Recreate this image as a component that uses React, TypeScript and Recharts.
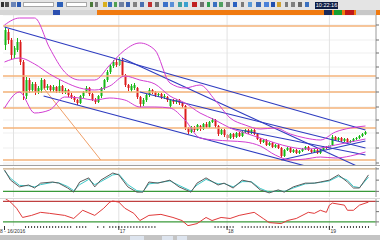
import React from 'react';
import { ComposedChart, LineChart, Bar, Line, XAxis, YAxis, ReferenceLine, CartesianGrid } from 'recharts';

// candles, one per bar: [open, high, low, close]
const candles: number[][] = [
  [120, 138, 115, 135], [133, 136, 121, 125], [125, 127, 105, 110], [110, 119, 107, 117], [115, 127, 113, 123],
  [123, 125, 100, 103], [103, 105, 65, 73], [69, 88, 66, 85], [85, 87, 72, 75], [75, 83, 73, 81],
  [81, 83, 70, 73], [73, 79, 71, 77], [75, 87, 72, 85], [85, 86, 75, 77], [77, 81, 75, 79],
  [79, 80, 73, 75], [75, 80, 73, 78], [78, 79, 72, 74], [74, 85, 72, 79], [79, 80, 71, 73],
  [73, 77, 71, 75], [75, 76, 68, 70], [70, 72, 66, 68], [68, 69, 63, 65], [65, 66, 60, 62],
  [62, 70, 61, 69], [69, 74, 67, 73], [73, 79, 72, 77], [77, 78, 69, 71], [71, 72, 64, 65],
  [65, 67, 61, 63], [63, 70, 62, 69], [69, 78, 67, 77], [77, 86, 75, 85], [85, 95, 83, 93],
  [93, 101, 91, 99], [99, 105, 97, 103], [103, 106, 98, 100], [100, 108, 99, 105], [105, 107, 88, 90],
  [90, 91, 78, 80], [80, 81, 74, 77], [75, 81, 73, 79], [77, 82, 75, 80], [77, 78, 66, 68],
  [68, 69, 58, 61], [61, 67, 59, 65], [65, 71, 63, 70], [70, 77, 68, 75], [75, 76, 71, 73],
  [73, 74, 68, 70], [70, 72, 68, 71], [71, 72, 66, 68], [68, 71, 66, 69], [68, 69, 63, 65],
  [59, 66, 57, 65], [65, 66, 61, 63], [63, 66, 61, 65], [65, 66, 60, 62], [62, 63, 57, 59],
  [59, 60, 35, 37], [37, 38, 31, 33], [33, 39, 32, 38], [38, 39, 33, 35], [35, 41, 34, 40],
  [39, 40, 34, 36], [36, 42, 35, 41], [41, 43, 37, 38], [38, 44, 37, 43], [43, 47, 42, 45],
  [45, 46, 37, 39], [39, 40, 29, 31], [31, 36, 30, 35], [35, 36, 28, 30], [30, 31, 25, 27],
  [27, 32, 26, 31], [31, 32, 26, 28], [28, 33, 27, 32], [32, 33, 28, 29], [29, 34, 28, 33],
  [33, 36, 32, 35], [35, 36, 31, 32], [32, 36, 31, 35], [35, 36, 30, 31], [31, 32, 25, 26],
  [26, 27, 21, 23], [23, 26, 22, 25], [25, 26, 19, 20], [20, 23, 19, 22], [22, 23, 17, 18],
  [18, 21, 17, 20], [20, 21, 16, 17], [17, 18, 7, 9], [9, 16, 8, 15], [15, 18, 14, 17],
  [17, 18, 12, 13], [13, 16, 12, 15], [15, 16, 11, 12], [12, 15, 11, 14], [14, 17, 13, 16],
  [16, 19, 15, 18], [18, 19, 14, 15], [15, 16, 12, 13], [13, 16, 12, 15], [15, 16, 11, 12],
  [12, 16, 11, 15], [15, 19, 14, 18], [18, 19, 16, 17], [17, 22, 16, 20], [20, 30, 19, 28],
  [28, 29, 24, 25], [25, 28, 24, 27], [27, 28, 23, 24], [24, 27, 23, 26], [26, 27, 22, 23],
  [23, 25, 22, 24], [24, 27, 23, 26], [26, 28, 25, 27], [27, 30, 26, 29], [29, 32, 28, 31],
  [31, 34, 30, 33],
];
const barSlots = 124;

// bollinger bands, read every 5 bars
const bandIdx = [0, 5, 10, 15, 20, 25, 30, 35, 40, 45, 50, 55, 60, 65, 70, 75, 80, 85, 90, 95, 100, 105, 110, 115, 120];
const bandUpper = [140, 147, 147, 117, 93, 85, 85, 100, 115, 122, 115, 82, 77, 80, 65, 47, 40, 36, 37, 31, 27, 25, 33, 37, 39];
const bandMid = [103, 107, 101, 91, 83, 77, 75, 79, 89, 85, 81, 69, 62, 52, 45, 37, 32, 27, 22, 18, 16, 17, 20, 23, 26];
const bandLower = [57, 73, 52, 55, 68, 67, 65, 67, 65, 58, 58, 57, 45, 27, 25, 24, 23, 19, 10, 5, 6, 8, 7, 9, 13];

// horizontal price levels and trend lines [bar1, price1, bar2, price2]
const levels = [139, 89, 73, 57, 37, 5];
const trendLines = [
  [0, 138, 120, 35],
  [39, 107, 120, -5],
  [13, 69, 120, -17],
  [45, 73, 120, 17],
  [92, 5, 120, 24],
  [75, 37, 120, 10],
];
const fibLine = [13, 77, 32, 5];
const daySplits = [3, 38, 74, 108];
const priceTicks = [2, 17, 32, 45, 58, 73, 87, 98, 112, 125, 140];

// oscillator 1 (stochastic style)
const osc1T = [0, 2, 5, 8, 10, 12, 16, 18, 21, 23, 25, 28, 30, 32, 36, 38, 41, 44, 46, 48, 51, 55, 58, 62, 64, 67, 71, 73, 76, 79, 82, 85, 88, 91, 93, 96, 100, 103, 105, 108, 111, 114, 116, 118, 121];
const osc1Main = [77, 50, 32, 37, 29, 42, 45, 42, 29, 18, 45, 56, 32, 50, 69, 64, 32, 18, 18, 45, 42, 50, 32, 18, 42, 56, 37, 42, 29, 50, 45, 24, 16, 24, 18, 32, 42, 42, 45, 50, 64, 45, 29, 29, 64];
const osc1Signal = [75, 55, 36, 35, 32, 38, 44, 43, 33, 22, 38, 52, 38, 46, 64, 66, 38, 22, 19, 40, 43, 48, 36, 21, 37, 52, 40, 41, 32, 46, 46, 28, 18, 22, 20, 29, 40, 42, 44, 48, 60, 50, 33, 30, 58];

// oscillator 2 (rsi style)
const osc2T = [0, 2, 4, 6, 9, 12, 15, 20, 23, 26, 30, 33, 35, 36, 38, 40, 43, 45, 48, 52, 56, 59, 61, 64, 67, 69, 72, 75, 78, 83, 86, 88, 92, 94, 97, 101, 103, 105, 107, 108, 109, 113, 114, 116, 118, 121];
const osc2Vals = [90, 78, 60, 33, 39, 48, 45, 39, 30, 54, 39, 60, 78, 81, 78, 60, 45, 24, 39, 42, 33, 24, 9, 15, 33, 24, 33, 30, 39, 48, 30, 18, 15, 24, 30, 48, 45, 54, 48, 69, 75, 69, 54, 54, 69, 78];

// time axis
const tickRuns = [[7, 22], [24, 27], [31, 31], [33, 33], [35, 50], [70, 76], [79, 109], [112, 121]];
const dayLabels: Record<number, string> = { 0: '8 - 16/2016', 38: '17', 74: '18', 108: '19' };

const rows = Array.from({ length: barSlots }, (_, i) => {
  const k = candles[i];
  const b = bandIdx.indexOf(i);
  return {
    i,
    o: k ? k[0] : null,
    h: k ? k[1] : null,
    l: k ? k[2] : null,
    c: k ? k[3] : null,
    range: k ? [k[2], k[1]] : null,
    bbUp: b >= 0 ? bandUpper[b] : null,
    bbMid: b >= 0 ? bandMid[b] : null,
    bbLow: b >= 0 ? bandLower[b] : null,
  };
});

const osc1Rows = osc1T.map((t, n) => ({ t, main: osc1Main[n], sig: osc1Signal[n] }));
const osc2Rows = osc2T.map((t, n) => ({ t, v: osc2Vals[n] }));

const timeTicks: number[] = [];
tickRuns.forEach(([a, b]) => {
  for (let t = a; t <= b; t++) timeTicks.push(t);
});
Object.keys(dayLabels).forEach((k) => {
  if (!timeTicks.includes(Number(k))) timeTicks.push(Number(k));
});
timeTicks.sort((a, b) => a - b);

function Candle(props: any) {
  const { x, y, width, height, payload } = props;
  if (payload == null || payload.h == null) return null;
  const { o, h, l, c } = payload;
  const top = Math.min(y, y + height);
  const span = Math.abs(height);
  const px = (v: number) => top + ((h - v) / (h - l || 1)) * span;
  const color = c >= o ? '#14b814' : '#dc1c1c';
  const cx = Math.round(x + width / 2) + 0.5;
  const bTop = px(Math.max(o, c));
  const bBot = px(Math.min(o, c));
  return (
    <g>
      <line x1={cx} x2={cx} y1={top} y2={top + span} stroke={color} strokeWidth={1} />
      <rect x={cx - 1} y={bTop} width={2} height={Math.max(1, bBot - bTop)} fill={color} />
    </g>
  );
}

function TimeTick(props: any) {
  const { x, y, payload } = props;
  const label = dayLabels[payload.value];
  if (!label) return <g />;
  return (
    <g>
      <line x1={x} x2={x} y1={y - 4} y2={y} stroke="#333" strokeWidth={1} />
      <text x={payload.value === 0 ? 0 : x + 1} y={y + 3} fontSize={5} fill="#333" fontFamily="Liberation Sans, Arial">
        {label}
      </text>
    </g>
  );
}

// toolbar pieces: [left, width, color]
const toolbar: [number, number, string][] = [
  [1, 3, '#303030'], [5, 4, '#505050'], [11, 5, '#6a84b8'], [17, 4, '#2a58b0'],
  [57, 6, '#2c5fb8'], [90, 3, '#4a7a3a'], [95, 3, '#7a7a7a'], [103, 4, '#d8b020'],
  [108, 4, '#3b6fc0'], [114, 3, '#50a050'], [119, 5, '#7080a0'], [126, 4, '#3a62b0'],
  [133, 4, '#808080'], [140, 4, '#4a6fb0'], [148, 4, '#c03030'], [155, 4, '#707070'],
  [163, 5, '#3c70c8'], [170, 4, '#5a8fd8'], [178, 4, '#40a0a0'], [184, 4, '#3aa0d0'],
  [192, 5, '#c02020'], [200, 4, '#707070'], [207, 3, '#30a050'], [213, 4, '#3a70c0'],
  [219, 4, '#50a060'], [226, 4, '#7a7a7a'], [233, 4, '#2a60c0'], [241, 3, '#7a7a7a'],
  [248, 4, '#5a9ad8'], [256, 5, '#3a6ab8'], [264, 5, '#4a80d8'], [271, 4, '#2050b0'],
  [277, 4, '#d0a030'], [285, 3, '#7a7a7a'], [291, 4, '#808080'], [298, 4, '#6a6a6a'], [305, 4, '#3a70c0'],
];

export default function App() {
  return (
    <div
      style={{
        position: 'fixed',
        left: 0,
        top: 0,
        width: 380,
        height: 240,
        overflow: 'hidden',
        background: '#ffffff',
        fontFamily: 'Liberation Sans, Arial, sans-serif',
      }}
    >
      {/* toolbar */}
      <div style={{ position: 'absolute', left: 0, top: 0, width: 380, height: 10, background: '#e4e4e4' }}>
        {toolbar.map(([left, w, color], n) => (
          <span key={n} style={{ position: 'absolute', left, top: 2, width: w, height: 5, background: color }} />
        ))}
        <span style={{ position: 'absolute', left: 23, top: 2, width: 31, height: 5, background: '#fff', border: '1px solid #a8a8a8', boxSizing: 'border-box' }} />
        <span style={{ position: 'absolute', left: 66, top: 2, width: 21, height: 5, background: '#fff', border: '1px solid #a8a8a8', boxSizing: 'border-box' }} />
        <span
          style={{
            position: 'absolute',
            left: 315,
            top: 2,
            width: 23,
            height: 7,
            background: '#0e1d44',
            color: '#fff',
            fontSize: 5.5,
            lineHeight: '7px',
            textAlign: 'center',
          }}
        >
          10:22:16
        </span>
      </div>
      {/* tab row */}
      <div style={{ position: 'absolute', left: 0, top: 10, width: 380, height: 5, background: '#d6d6d6' }}>
        <span style={{ position: 'absolute', left: 53, top: 0, width: 7, height: 5, background: '#2c4fb0' }} />
        <span style={{ position: 'absolute', left: 97, top: 0, width: 283, height: 5, background: '#f07a10' }} />
        <span style={{ position: 'absolute', left: 324, top: 0, width: 8, height: 5, background: '#1a2a5a' }} />
        <span style={{ position: 'absolute', left: 334, top: 0, width: 8, height: 5, background: '#18a030' }} />
        <span style={{ position: 'absolute', left: 345, top: 0, width: 9, height: 5, background: '#c01818' }} />
        <span style={{ position: 'absolute', left: 356, top: 0, width: 20, height: 5, background: '#c8c8c8' }} />
      </div>

      {/* main price panel */}
      <div style={{ position: 'absolute', left: 0, top: 15, borderBottom: '1px solid #a0a0a0' }}>
        <ComposedChart width={380} height={150} data={rows} margin={{ top: 0, right: 0, bottom: 0, left: 3 }}>
          <CartesianGrid vertical={false} stroke="#efefef" />
          <XAxis dataKey="i" type="category" hide />
          <YAxis
            orientation="right"
            width={4}
            domain={[0, 150]}
            ticks={priceTicks}
            tickFormatter={() => ''}
            tickSize={3}
            axisLine={{ stroke: '#9a9a9a' }}
            tickLine={{ stroke: '#707070' }}
            allowDataOverflow
          />
          {daySplits.map((d) => (
            <ReferenceLine key={'d' + d} x={d} stroke="#e2e2e2" ifOverflow="hidden" />
          ))}
          {levels.map((v) => (
            <ReferenceLine key={'l' + v} y={v} stroke="#f4b37a" strokeWidth={1.6} ifOverflow="hidden" />
          ))}
          <ReferenceLine
            segment={[{ x: fibLine[0], y: fibLine[1] }, { x: fibLine[2], y: fibLine[3] }]}
            stroke="#f0a068"
            strokeWidth={1}
            ifOverflow="hidden"
          />
          {trendLines.map((t, n) => (
            <ReferenceLine
              key={'t' + n}
              segment={[{ x: t[0], y: t[1] }, { x: t[2], y: t[3] }]}
              stroke="#2e3cc0"
              strokeWidth={1.1}
              ifOverflow="hidden"
            />
          ))}
          <Line dataKey="bbUp" type="monotone" stroke="#d23ed2" strokeWidth={1} dot={false} connectNulls isAnimationActive={false} />
          <Line dataKey="bbMid" type="monotone" stroke="#d23ed2" strokeWidth={1} dot={false} connectNulls isAnimationActive={false} />
          <Line dataKey="bbLow" type="monotone" stroke="#d23ed2" strokeWidth={1} dot={false} connectNulls isAnimationActive={false} />
          <Bar dataKey="range" barSize={3} shape={Candle} isAnimationActive={false} />
        </ComposedChart>
      </div>

      {/* oscillator 1 */}
      <div style={{ position: 'absolute', left: 0, top: 167 }}>
        <LineChart width={380} height={30} data={osc1Rows} margin={{ top: 0, right: 0, bottom: 0, left: 3 }}>
          <XAxis dataKey="t" type="number" domain={[-0.5, barSlots - 0.5]} hide />
          <YAxis
            orientation="right"
            width={4}
            domain={[5, 85]}
            ticks={[20, 50, 80]}
            tickFormatter={() => ''}
            tickSize={3}
            axisLine={{ stroke: '#9a9a9a' }}
            tickLine={{ stroke: '#707070' }}
          />
          {daySplits.map((d) => (
            <ReferenceLine key={'d' + d} x={d} stroke="#e2e2e2" />
          ))}
          <ReferenceLine y={80} stroke="#c9a77e" strokeWidth={1.2} />
          <ReferenceLine y={20} stroke="#3a9a3a" strokeWidth={1.2} />
          <Line dataKey="sig" type="linear" stroke="#3cc8c8" strokeWidth={1} dot={false} isAnimationActive={false} />
          <Line dataKey="main" type="linear" stroke="#5a5a5a" strokeWidth={1} dot={false} isAnimationActive={false} />
        </LineChart>
      </div>

      {/* oscillator 2 with time axis */}
      <div style={{ position: 'absolute', left: 0, top: 198, borderTop: '1px solid #d8d8d8' }}>
        <LineChart width={380} height={36} data={osc2Rows} margin={{ top: 0, right: 0, bottom: 0, left: 3 }}>
          <XAxis
            dataKey="t"
            type="number"
            domain={[-0.5, barSlots - 0.5]}
            ticks={timeTicks}
            interval={0}
            height={9}
            tickSize={2}
            axisLine={false}
            tickLine={{ stroke: '#444' }}
            tick={TimeTick}
          />
          <YAxis
            orientation="right"
            width={4}
            domain={[8, 87]}
            ticks={[20, 50, 80]}
            tickFormatter={() => ''}
            tickSize={3}
            axisLine={{ stroke: '#9a9a9a' }}
            tickLine={{ stroke: '#707070' }}
            allowDataOverflow
          />
          {daySplits.map((d) => (
            <ReferenceLine key={'d' + d} x={d} stroke="#e2e2e2" />
          ))}
          <ReferenceLine y={80} stroke="#c04040" strokeWidth={1.2} />
          <ReferenceLine y={20} stroke="#3a9a3a" strokeWidth={1.2} />
          <Line dataKey="v" type="linear" stroke="#e03a3a" strokeWidth={1} dot={false} isAnimationActive={false} />
        </LineChart>
      </div>

      {/* status bar */}
      <div style={{ position: 'absolute', left: 0, top: 235, width: 380, height: 5, background: '#c4c4c4' }}>
        <span style={{ position: 'absolute', left: 130, top: 1, width: 14, height: 4, background: '#dde4ee' }} />
        <span style={{ position: 'absolute', left: 162, top: 1, width: 11, height: 4, background: '#dde4ee' }} />
        <span style={{ position: 'absolute', left: 177, top: 1, width: 10, height: 4, background: '#dde4ee' }} />
      </div>
    </div>
  );
}
